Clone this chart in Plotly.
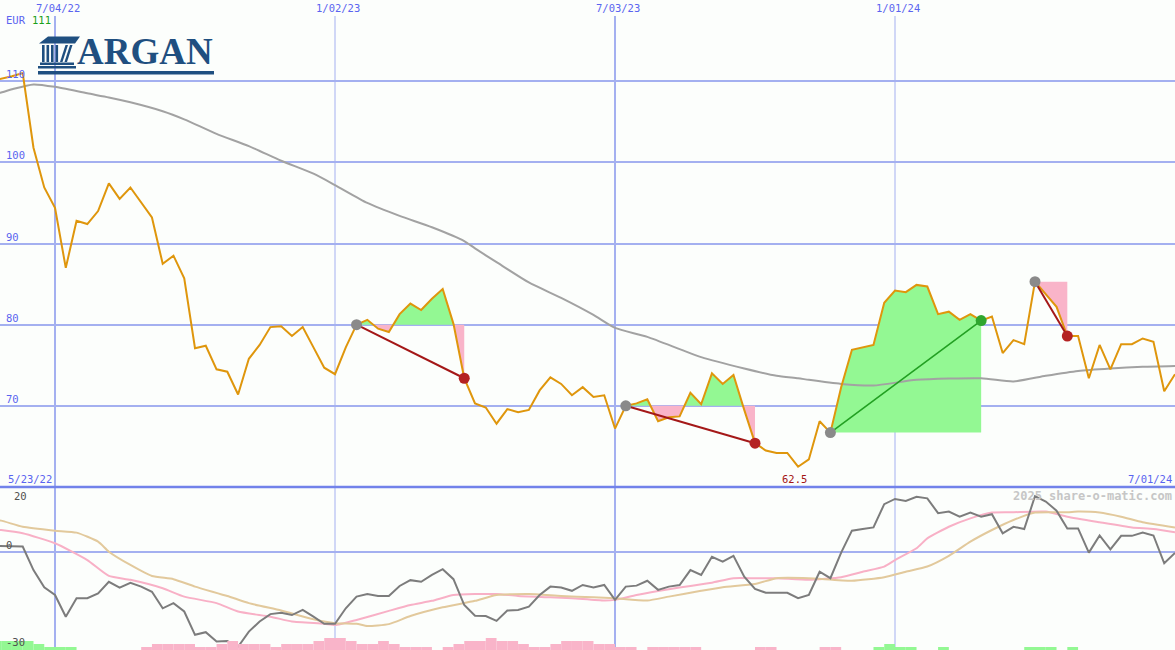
import plotly.graph_objects as go
import pandas as pd

# ---------------- data ----------------
week_start = "2022-05-23"
n_weeks = 111
weeks = pd.date_range(week_start, periods=n_weeks, freq="7D")

price = [110.0, 110.3, 110.6, 111.0, 101.8, 96.9, 94.4, 87.0, 92.8, 92.4,
         94.0, 97.4, 95.5, 96.9, 95.0, 93.2, 87.5, 88.5, 85.7, 77.1,
         77.4, 74.5, 74.2, 71.4, 75.8, 77.5, 79.7, 79.8, 78.6, 79.7,
         77.2, 74.7, 73.9, 77.2, 80.0, 80.6, 79.5, 79.1, 81.3, 82.6,
         81.8, 83.2, 84.4, 80.1, 73.4, 70.3, 69.8, 67.8, 69.6, 69.2,
         69.5, 71.9, 73.5, 72.7, 71.3, 72.3, 71.1, 71.3, 67.2, 70.0,
         70.3, 70.8, 68.1, 68.6, 68.7, 71.6, 70.2, 74.0, 72.7, 73.8,
         69.5, 65.4, 64.5, 64.2, 64.2, 62.5, 63.4, 68.1, 66.7, 72.3,
         76.9, 77.2, 77.5, 82.7, 84.2, 84.0, 84.9, 84.7, 81.3, 81.6,
         80.6, 81.3, 80.5, 81.0, 76.5, 78.1, 77.6, 85.3, 83.8, 82.2,
         78.6, 78.6, 73.4, 77.5, 74.5, 77.6, 77.6, 78.3, 77.9, 71.8, 73.9]

ma_idx = [0, 1, 2, 4, 6, 9, 11, 13, 16, 18, 21, 24, 27, 30, 32, 35, 38, 41, 44, 45,
          47, 50, 53, 56, 58, 61, 66, 70, 73, 75, 76, 79, 82, 86, 92, 95, 98, 101, 104, 107, 110]
ma_val = [108.4, 108.6, 109.0, 109.6, 109.3, 108.5, 108.0, 107.4, 106.3, 105.3,
          103.5, 102.0, 100.2, 98.6, 97.2, 95.0, 93.4, 92.0, 90.3, 89.4,
          87.7, 85.2, 83.3, 81.2, 79.6, 78.5, 76.0, 74.6, 73.7, 73.4,
          73.2, 72.7, 72.5, 73.2, 73.4, 73.0, 73.7, 74.3, 74.6, 74.8, 74.9]

trade_entry = [34, 59, 78, 97]
trade_exit = [44, 71, 92, 100]

osc = [1.8, 1.8, 1.8, 1.6, -5.7, -11.0, -13.4, -20.1, -14.4, -14.4,
       -12.9, -9.3, -11.1, -9.6, -10.8, -12.4, -17.5, -15.9, -18.5, -25.7,
       -24.9, -27.8, -27.6, -29.4, -24.7, -21.6, -19.3, -18.9, -19.6, -18.0,
       -20.1, -22.3, -22.3, -17.5, -13.9, -13.1, -13.7, -13.7, -10.6, -8.8,
       -9.3, -7.2, -5.4, -8.5, -16.5, -19.8, -19.9, -21.4, -18.2, -18.0,
       -17.0, -13.4, -10.8, -11.1, -12.1, -10.3, -11.1, -10.3, -14.9, -10.8,
       -10.5, -9.0, -11.8, -10.8, -10.3, -5.7, -7.2, -1.6, -3.1, -1.3,
       -7.7, -11.5, -12.7, -12.7, -12.7, -14.4, -13.4, -6.2, -8.2, -0.3,
       6.5, 7.0, 7.5, 14.7, 16.3, 15.7, 17.0, 16.5, 11.9, 12.4,
       10.8, 12.1, 10.8, 11.6, 5.7, 7.7, 7.0, 17.2, 15.5, 12.7,
       7.2, 7.2, -0.3, 5.0, 0.7, 4.9, 4.9, 5.9, 5.0, -3.6, -0.4]

pink_idx = [0, 1, 3, 6, 9, 11, 13, 16, 18, 21, 23, 26, 28, 31, 32, 34, 37, 39, 41, 43,
            45, 47, 49, 52, 54, 57, 58, 60, 63, 65, 67, 69, 71, 73, 76, 79, 81, 83, 84, 86,
            87, 89, 91, 93, 95, 98, 100, 103, 106, 108, 110]
pink_val = [7.0, 6.7, 5.7, 2.6, -2.6, -7.5, -8.7, -11.3, -13.9, -15.9,
            -18.5, -20.1, -21.6, -22.3, -22.7, -21.1, -18.3, -16.5, -15.2, -13.4,
            -13.1, -13.1, -13.7, -14.1, -14.4, -15.1, -14.9, -13.4, -11.6, -10.6,
            -9.6, -8.2, -8.2, -8.2, -8.7, -7.9, -6.2, -4.6, -2.6, 1.05,
            4.1, 7.7, 10.3, 12.1, 12.2, 12.4, 10.8, 9.1, 7.5, 7.0, 6.0]

tan_idx = [0, 1, 3, 6, 8, 10, 11, 13, 15, 17, 19, 22, 24, 27, 30, 32, 34, 35, 37, 39,
           42, 45, 47, 50, 53, 56, 58, 61, 63, 66, 68, 71, 73, 76, 80, 83, 85, 87, 89, 91,
           93, 95, 97, 100, 101, 103, 105, 107, 110]
tan_val = [10.0, 9.6, 7.7, 6.5, 5.9, 3.1, 0.0, -4.1, -7.5, -8.5,
           -10.8, -13.7, -15.9, -18.2, -20.9, -22.1, -22.3, -23.0, -22.4, -19.9,
           -17.2, -15.2, -13.4, -13.1, -13.7, -14.1, -14.4, -15.1, -13.9, -12.1,
           -11.0, -10.0, -8.2, -8.2, -9.0, -7.9, -6.2, -4.6, -1.3, 3.1,
           6.7, 9.8, 12.1, 12.2, 12.4, 12.1, 10.8, 9.1, 7.5]

hist = [3, 3, 3, 3, 2, 1, 1, 1, 0, 0,
        0, 0, 0, 0, -1, -2, -2, -2, -2, -1,
        -1, -2, -3, -2, -2, -2, -1, -2, -2, -2,
        -3, -4, -4, -3, -2, -2, -3, -2, -1, -1,
        -1, 0, -1, -2, -3, -3, -4, -3, -3, -2,
        -1, -1, -2, -3, -3, -3, -2, -2, -1, -1,
        0, -1, -1, -1, -1, -1, 0, 0, 0, 0,
        0, -1, -1, 0, 0, 0, 0, -1, -1, 0,
        0, 0, 1, 2, 1, 1, 0, 0, 1, 0,
        0, 0, 0, 0, 0, 0, 1, 1, 1, 0,
        1, 0, 0, 0, 0, 0, 0, 0, 0, 0, 0]

grid_dates = ["2022-07-04", "2023-01-02", "2023-07-03", "2024-01-01"]
grid_labels = ["7/04/22", "1/02/23", "7/03/23", "1/01/24"]
price_ticks = [110, 100, 90, 80, 70]

# ---------------- styles ----------------
W, H = 1175, 650
BG = "#fcfefc"
GRID = "#a4b0f0"
SEP = "#7282ea"
LBL = "#5a64f0"
ORANGE = "#df960c"
MONO = "DejaVu Sans Mono"
GREEN_FILL = "#93f893"
PINK_FILL = "#f9b4c9"


def px(p):
    return p / W


def py(p):
    return 1 - p / H


split = (H - 487) / H  # bottom panel height fraction
x_start = weeks[0] + pd.Timedelta(days=6.24)
x_end = weeks[-1]

fig = go.Figure()

# trade fills
for a, b in zip(trade_entry, trade_exit):
    L = price[a]
    xs, ys = [], []
    for i in range(a, b + 1):
        xs.append(weeks[i])
        ys.append(price[i])
        if i < b:
            d0, d1 = price[i] - L, price[i + 1] - L
            if d0 * d1 < 0:
                f = d0 / (d0 - d1)
                xs.append(weeks[i] + (weeks[i + 1] - weeks[i]) * f)
                ys.append(L)
    up = [max(y, L) for y in ys]
    dn = [min(y, L) for y in ys]
    for vals, col in ((up, GREEN_FILL), (dn, PINK_FILL)):
        fig.add_trace(go.Scatter(x=xs + xs[::-1], y=vals + [L] * len(xs),
                                 fill="toself", fillcolor=col, mode="lines",
                                 line=dict(width=0, color=col), hoverinfo="skip",
                                 xaxis="x", yaxis="y"))

# moving average
fig.add_trace(go.Scatter(x=[weeks[i] for i in ma_idx], y=ma_val, mode="lines",
                         line=dict(color="#a2a2a2", width=2, shape="spline", smoothing=0.6),
                         xaxis="x", yaxis="y"))
# price
fig.add_trace(go.Scatter(x=weeks, y=price, mode="lines",
                         line=dict(color=ORANGE, width=2), xaxis="x", yaxis="y"))

# trade lines and dots
for a, b in zip(trade_entry, trade_exit):
    win = price[b] > price[a]
    lc = "#22a022" if win else "#a41818"
    dc = "#2ea62e" if win else "#b42222"
    fig.add_trace(go.Scatter(x=[weeks[a], weeks[b]], y=[price[a], price[b]], mode="lines",
                             line=dict(color=lc, width=1.6 if win else 2),
                             xaxis="x", yaxis="y"))
    fig.add_trace(go.Scatter(x=[weeks[a]], y=[price[a]], mode="markers",
                             marker=dict(color="#8a8a8a", size=11, line=dict(width=0)),
                             xaxis="x", yaxis="y"))
    fig.add_trace(go.Scatter(x=[weeks[b]], y=[price[b]], mode="markers",
                             marker=dict(color=dc, size=11, line=dict(width=0)),
                             xaxis="x", yaxis="y"))

# bottom panel: histogram bars
week_ms = 7 * 24 * 3600 * 1000
fig.add_trace(go.Bar(x=weeks, y=[abs(h) for h in hist], offset=0, width=week_ms,
                     marker=dict(color=["#93f893" if h > 0 else "#f9b4c9" for h in hist],
                                 line=dict(width=0)),
                     xaxis="x2", yaxis="y3"))
fig.add_trace(go.Scatter(x=[weeks[i] for i in pink_idx], y=pink_val, mode="lines",
                         line=dict(color="#f8b0c6", width=2, shape="spline", smoothing=0.5),
                         xaxis="x2", yaxis="y2"))
fig.add_trace(go.Scatter(x=[weeks[i] for i in tan_idx], y=tan_val, mode="lines",
                         line=dict(color="#e2c99c", width=2, shape="spline", smoothing=0.5),
                         xaxis="x2", yaxis="y2"))
fig.add_trace(go.Scatter(x=weeks, y=osc, mode="lines",
                         line=dict(color="#7c7c7c", width=2), xaxis="x2", yaxis="y2"))

# ---------------- shapes ----------------
shapes = []
for k, d in enumerate(grid_dates):
    shapes.append(dict(type="line", xref="x", yref="paper", x0=d, x1=d, y0=0, y1=py(16),
                       line=dict(color=GRID, width=2 if k % 2 == 0 else 1), layer="below"))
shapes.append(dict(type="line", xref="paper", yref="paper", x0=0, x1=1, y0=split, y1=split,
                   line=dict(color=SEP, width=2.5), layer="below"))

# logo (temple icon + underline)
LOGO = "#1f4f80"


def poly(pts):
    return "M " + " L ".join(f"{px(a):.5f},{py(b):.5f}" for a, b in pts) + " Z"


def rect(x0, y0, x1, y1):
    return dict(type="rect", xref="paper", yref="paper", x0=px(x0), x1=px(x1),
                y0=py(y1), y1=py(y0), fillcolor=LOGO, line=dict(width=0), layer="above")


shapes.append(dict(type="path", xref="paper", yref="paper",
                   path=poly([(39, 43.5), (48, 36.5), (80, 36.5), (75, 43.5)]),
                   fillcolor=LOGO, line=dict(width=0), layer="above"))
for cx in (42, 46.5, 51, 55.5):
    shapes.append(rect(cx, 45, cx + 2.6, 62))
shapes.append(dict(type="path", xref="paper", yref="paper",
                   path=poly([(60, 62), (62.5, 62), (68, 45), (65.5, 45)]),
                   fillcolor=LOGO, line=dict(width=0), layer="above"))
shapes.append(dict(type="path", xref="paper", yref="paper",
                   path=poly([(64.5, 62), (67, 62), (72.5, 45), (70, 45)]),
                   fillcolor=LOGO, line=dict(width=0), layer="above"))
shapes.append(rect(40, 62.5, 74, 65))
shapes.append(rect(38, 66, 76, 68.5))
shapes.append(rect(38, 71, 214, 74.5))

# ---------------- annotations ----------------
ann = []


def txt(text, x, y, xref="paper", yref="paper", xanchor="left", yanchor="middle",
        color=LBL, size=10.5, family=MONO, weight="normal", xshift=0, yshift=0):
    ann.append(dict(text=text, x=x, y=y, xref=xref, yref=yref, xanchor=xanchor,
                    yanchor=yanchor, showarrow=False, xshift=xshift, yshift=yshift,
                    font=dict(color=color, size=size, family=family, weight=weight)))


for d, lab in zip(grid_dates, grid_labels):
    txt(lab, d, py(8), xref="x", xanchor="center", xshift=3)
txt("EUR", px(4), py(20))
txt("111", px(30), py(20), color="#1aa01a")
for v in price_ticks:
    txt(str(v), px(4), v, yref="y", yanchor="bottom", yshift=-1)
txt("5/23/22", px(6), py(479))
txt("7/01/24", px(1174), py(479), xanchor="right")
imin = min(range(n_weeks), key=lambda i: price[i])
txt(f"{price[imin]:.1f}", weeks[imin], py(479), xref="x", xanchor="center",
    color="#a41414", xshift=-4)
txt("2025 share-o-matic.com", px(1174), py(496), xanchor="right", color="#c6c6c6",
    size=12, weight="bold")
txt("20", px(12), py(496), color="#505050")
txt("0", px(4), 0, yref="y2", yanchor="bottom", color="#505050", yshift=-1)
txt("-30", px(4), -30, yref="y2", yanchor="bottom", color="#505050", yshift=-1)
txt("ARGAN", px(75), py(52), color=LOGO, size=37, family="Liberation Serif",
    weight="bold")

fig.update_layout(
    width=W, height=H, margin=dict(l=0, r=0, t=0, b=0),
    paper_bgcolor=BG, plot_bgcolor=BG, showlegend=False, hovermode=False,
    xaxis=dict(type="date", range=[x_start, x_end], domain=[0, 1], anchor="y",
               showgrid=False, showticklabels=False, zeroline=False, showline=False),
    xaxis2=dict(type="date", range=[x_start, x_end], domain=[0, 1], anchor="y2",
                matches="x", showgrid=False, showticklabels=False, zeroline=False),
    yaxis=dict(domain=[split, 1], range=[60, 120], tickvals=price_ticks, showgrid=True,
               gridcolor=GRID, gridwidth=2, showticklabels=False, zeroline=False),
    yaxis2=dict(domain=[0, split], range=[-30.4, 20], tickvals=[0], showgrid=True,
                gridcolor=GRID, gridwidth=2, showticklabels=False, zeroline=False),
    yaxis3=dict(overlaying="y2", range=[0, (H - 487) / 3], visible=False),
    barmode="overlay",
    shapes=shapes, annotations=ann,
)

fig.write_html("out.html", config={"displayModeBar": False},
               post_script="document.body.style.margin='0';"
                           "document.body.style.overflow='hidden';")
